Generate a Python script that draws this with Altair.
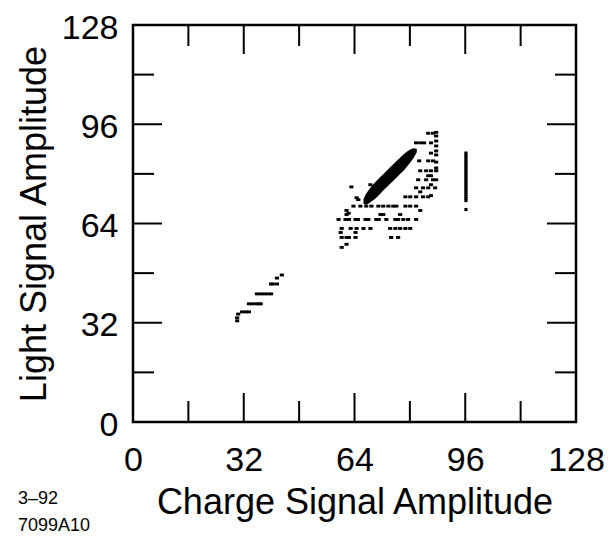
import altair as alt
import pandas as pd

# ---------------- data ----------------
axis_values = [0, 32, 64, 96, 128]
major_ticks = [32, 64, 96]
minor_ticks = [16, 48, 80, 112]

# upper cluster of scattered dashes
upper_x = [85.3, 86.7, 87.6, 87.6,
           81.8, 83.0, 84.1, 86.1, 87.6, 87.6,
           86.1, 87.6, 87.6,
           82.7, 85.3, 86.7, 87.6,
           83.0, 84.7, 86.1, 87.6, 87.6,
           82.4, 84.7, 86.7, 87.6, 85.3, 86.1,
           81.8, 83.8, 85.3, 87.3, 86.1,
           78.7, 80.1, 81.8, 83.8, 85.3, 86.1, 83.0,
           63.7, 65.7, 67.4, 68.9, 70.9, 72.3, 73.8, 75.2, 76.1, 78.7, 80.1, 81.8, 83.0,
           61.7, 62.3, 61.7, 71.5, 72.3, 77.2,
           59.4, 61.4, 62.4, 64.3, 65.0, 67.2, 68.0, 70.3, 71.0, 73.2, 75.8, 76.6, 78.1, 79.5, 81.8,
           60.3, 62.9, 64.6, 66.6, 68.6, 74.3, 75.8, 77.2, 78.7, 80.1,
           60.0, 64.3,
           60.3, 61.7, 62.4, 64.3, 74.6, 76.6,
           60.3, 61.7,
           63.1, 68.6, 64.6, 65.1]
upper_y = [93.1, 93.1, 93.4, 92.2,
           90.0, 90.0, 90.0, 90.0, 90.6, 89.0,
           86.7, 86.1, 87.4,
           84.2, 84.2, 84.2, 83.8,
           81.0, 81.0, 81.0, 81.0, 81.9,
           78.1, 78.1, 78.1, 78.1, 79.4, 79.4,
           75.5, 75.5, 75.5, 75.5, 76.5,
           72.6, 72.6, 72.6, 72.6, 72.6, 73.0, 74.2,
           69.6, 69.6, 69.6, 69.6, 69.6, 69.6, 69.6, 69.6, 69.6, 69.6, 69.6, 69.6, 68.2,
           68.2, 67.3, 66.9, 66.9, 66.9, 66.9,
           65.3, 65.3, 65.3, 65.3, 65.3, 65.3, 65.3, 65.3, 65.3, 65.3, 65.3, 65.3, 65.3, 65.3, 65.3,
           62.4, 62.4, 62.4, 62.4, 62.4, 62.4, 62.4, 62.4, 62.4, 62.4,
           61.1, 61.1,
           59.5, 59.5, 59.5, 59.5, 59.5, 59.5,
           56.3, 57.3,
           75.8, 76.5, 72.3, 71.7]

# lower-left diagonal cluster
lower_x = [30.1, 30.1, 30.4, 31.5, 32.6, 33.5,
           33.5, 34.4, 35.5, 36.3, 36.9,
           35.8, 36.9, 37.9, 38.9, 39.9,
           39.9, 40.4, 41.6, 41.6, 43.0]
lower_y = [32.6, 33.6, 34.8, 35.5, 35.5, 35.5,
           38.1, 38.1, 38.1, 38.1, 38.1,
           41.3, 41.3, 41.3, 41.3, 41.3,
           44.5, 44.5, 44.5, 46.4, 47.4]

# vertical stripe near charge = 96
stripe_x = [96.2] * 24
stripe_y = [86.7, 86.0, 85.3, 84.6, 83.9, 83.2, 82.5, 81.8, 81.1, 80.4, 79.7, 79.0,
            78.3, 77.6, 76.9, 76.2, 75.5, 74.8, 74.1, 73.4, 72.7, 72.0, 71.4, 68.5]

# dense band (lower and upper edge)
band_x = [66.6, 67.3, 68.3, 69.3, 70.3, 71.3, 72.3, 73.3, 74.3, 75.3, 76.3, 77.3, 78.3, 79.3, 80.3, 81.2, 82.0]
band_lo = [70.4, 70.0, 70.6, 71.4, 72.3, 73.4, 74.6, 75.7, 76.8, 77.9, 79.0, 80.1, 81.2, 82.5, 83.9, 85.4, 87.0]
band_hi = [71.9, 73.5, 75.1, 76.5, 77.7, 78.8, 79.9, 81.0, 82.1, 83.2, 84.3, 85.4, 86.4, 87.3, 88.0, 88.3, 88.0]

x_title = "Charge Signal Amplitude"
y_title = "Light Signal Amplitude"
note_date = "3–92"
note_id = "7099A10"

# ---------------- chart ----------------
FONT = "Liberation Sans"
W, H = 443, 397

dash_df = pd.DataFrame({"x": upper_x + lower_x, "y": upper_y + lower_y})
stripe_df = pd.DataFrame({"x": stripe_x, "y": stripe_y})
band_df = pd.DataFrame({"x": band_x, "lo": band_lo, "hi": band_hi})

xs = alt.Scale(domain=[0, 128], nice=False, zero=False)
ys = alt.Scale(domain=[0, 128], nice=False, zero=False)

x_axis = alt.Axis(values=axis_values, domain=False, ticks=False, grid=False,
                  labelFont=FONT, labelFontSize=34, labelColor="black", labelPadding=48,
                  labelBaseline="alphabetic", labelFlush=False, labelOverlap=False,
                  title=x_title, titleFont=FONT, titleFontSize=36, titleFontWeight="normal",
                  titleColor="black", titleX=W / 2, titleY=91, titleBaseline="alphabetic",
                  titleAlign="center")
y_axis = alt.Axis(values=axis_values, domain=False, ticks=False, grid=False,
                  labelFont=FONT, labelFontSize=34, labelColor="black", labelPadding=15,
                  labelAlign="right", labelBaseline="middle", labelOffset=3,
                  labelFlush=False, labelOverlap=False,
                  title=y_title, titleFont=FONT, titleFontSize=36, titleFontWeight="normal",
                  titleColor="black", titleX=-88, titleY=H / 2, titleAngle=270,
                  titleBaseline="alphabetic", titleAlign="center")

X = lambda f: alt.X(f, scale=xs, axis=x_axis, title=x_title)
Y = lambda f: alt.Y(f, scale=ys, axis=y_axis, title=y_title)

dashes = alt.Chart(dash_df).mark_point(
    shape="M-1,-0.7H1V0.7H-1Z", filled=True, size=17, color="black", opacity=1, strokeWidth=0
).encode(x=X("x:Q"), y=Y("y:Q"))

stripe = alt.Chart(stripe_df).mark_square(size=10, color="black", opacity=1).encode(
    x=X("x:Q"), y=Y("y:Q"))

band = alt.Chart(band_df).mark_area(color="black", opacity=1, orient="vertical").encode(
    x=X("x:Q"), y=Y("lo:Q"), y2="hi:Q")


def tick_layers(values, L):
    df = pd.DataFrame({"v": values})
    base = alt.Chart(df).mark_rule(color="black", strokeWidth=2)
    return [
        base.encode(x=X("v:Q"), y=alt.value(H), y2=alt.value(H - L)),
        base.encode(x=X("v:Q"), y=alt.value(0), y2=alt.value(L)),
        base.encode(y=Y("v:Q"), x=alt.value(0), x2=alt.value(L)),
        base.encode(y=Y("v:Q"), x=alt.value(W), x2=alt.value(W - L)),
    ]


notes = [
    alt.Chart(pd.DataFrame({"t": [note_date]})).mark_text(
        align="left", baseline="alphabetic", font=FONT, fontSize=18, color="black"
    ).encode(text="t:N", x=alt.value(-115), y=alt.value(479)),
    alt.Chart(pd.DataFrame({"t": [note_id]})).mark_text(
        align="left", baseline="alphabetic", font=FONT, fontSize=18, color="black"
    ).encode(text="t:N", x=alt.value(-115), y=alt.value(506)),
]

chart = alt.layer(
    dashes, band, stripe, *tick_layers(major_ticks, 29), *tick_layers(minor_ticks, 21), *notes
).properties(
    width=W, height=H,
    autosize=alt.AutoSizeParams(type="none"),
    padding={"left": 133, "top": 25, "right": 34, "bottom": 116},
    background="white",
).configure_view(stroke="black", strokeWidth=2.5)

chart.save("out.html", embed_options={"renderer": "svg", "actions": False})
